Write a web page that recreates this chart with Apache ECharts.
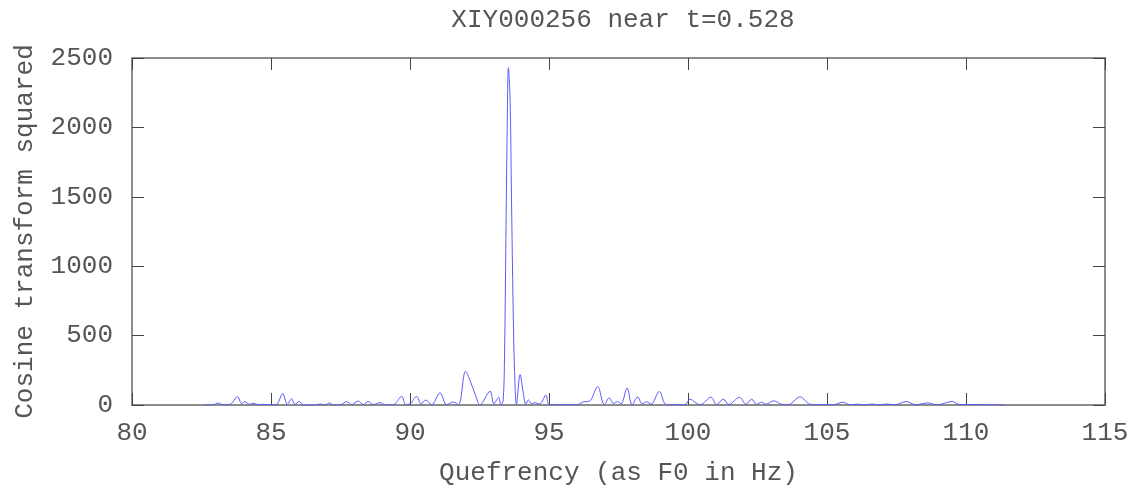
<!DOCTYPE html>
<html>
<head>
<meta charset="utf-8">
<script src="https://cdn.jsdelivr.net/npm/echarts@6/dist/echarts.min.js"></script>
<style>
html,body{margin:0;padding:0;background:#fff;}
#chart{width:1132px;height:486px;}
</style>
</head>
<body>
<div id="chart"></div>
<script>
const titleText = 'XIY000256 near t=0.528';
const xLabel = 'Quefrency (as F0 in Hz)';
const yLabel = 'Cosine transform squared';
const xTicks = [80, 85, 90, 95, 100, 105, 110, 115];
const yTicks = [0, 500, 1000, 1500, 2000, 2500];

const quefrency = [
  82.63, 82.92, 83.10, 83.28, 83.53, 83.79, 83.95, 84.06, 84.22, 84.36,
  84.54, 84.72, 84.90, 85.18, 85.42, 85.59, 85.74, 85.86, 86.02, 86.16,
  86.58, 86.76, 86.94, 87.10, 87.24, 87.48, 87.72, 87.90, 88.14, 88.32,
  88.50, 88.68, 88.92, 89.10, 89.34, 89.46, 89.70, 89.85, 90.00, 90.24,
  90.40, 90.56, 90.78, 91.08, 91.32, 91.56, 91.74, 92.00, 92.16, 92.34,
  92.52, 92.88, 93.02, 93.19, 93.27, 93.35, 93.40, 93.45, 93.49, 93.54,
  93.60, 93.65, 93.71, 93.76, 93.83, 93.96, 94.08, 94.17, 94.26, 94.38,
  94.50, 94.62, 94.71, 94.89, 95.02, 96.00, 96.23, 96.47, 96.75, 96.99,
  97.17, 97.31, 97.47, 97.59, 97.81, 97.99, 98.19, 98.35, 98.51, 98.67,
  98.97, 99.23, 99.89, 100.07, 100.25, 100.43, 100.83, 101.03, 101.27, 101.47,
  101.85, 102.09, 102.29, 102.47, 102.65, 102.81, 103.07, 103.37, 103.60, 104.03,
  104.39, 104.68, 105.22, 105.57, 105.83, 106.08, 106.33, 106.62, 106.87, 107.16,
  107.45, 107.84, 108.20, 108.63, 108.96, 109.50, 109.78, 110.00, 110.36, 110.72,
  111.40
];
const power = [
  0, 2, 14, 2, 5, 60, 10, 24, 5, 12,
  3, 5, 2, 2, 82, 5, 45, 5, 26, 0,
  0, 7, 1, 14, 1, 1, 24, 3, 29, 3,
  26, 3, 17, 1, 0, 8, 62, 3, 8, 62,
  8, 36, 3, 87, 2, 22, 1, 243, 176, 80,
  2, 99, 8, 55, 2, 30, 350, 1200, 1900, 2430,
  2200, 1500, 700, 250, 5, 219, 80, 5, 36, 8,
  17, 8, 12, 72, 2, 2, 22, 30, 132, 2,
  52, 12, 24, 8, 122, 2, 58, 8, 24, 5,
  97, 2, 2, 43, 20, 2, 56, 3, 42, 3,
  56, 5, 42, 5, 20, 5, 30, 5, 2, 58,
  5, 2, 2, 20, 2, 6, 1, 7, 1, 7,
  1, 25, 2, 15, 1, 25, 2, 4, 3, 1,
  0
];

const FONT = '"Liberation Mono", "DejaVu Sans Mono", monospace';
const TEXT = '#555555';
const FRAME = '#8c8c8c';
const TICK = '#444';
const FS = 26;

const chart = echarts.init(document.getElementById('chart'), null, {renderer: 'canvas'});
const seriesData = quefrency.map((q, i) => [q, power[i]]);

function axisCommon(show) {
  return {
    axisLine: {show: true, onZero: false, lineStyle: {color: FRAME, width: 2}},
    axisTick: {show: true, inside: true, length: 12, lineStyle: {color: TICK, width: 1}},
    splitLine: {show: false},
    axisLabel: {show: show, color: TEXT, fontFamily: FONT, fontSize: FS}
  };
}

chart.setOption({
  animation: false,
  backgroundColor: '#ffffff',
  title: {
    text: titleText, left: 618, top: 2, textAlign: 'center',
    textStyle: {fontFamily: FONT, fontSize: FS, fontWeight: 'normal', color: TEXT}
  },
  grid: {left: 132, right: 27, top: 58, bottom: 81, containLabel: false, outerBoundsMode: 'none'},
  xAxis: [
    Object.assign(axisCommon(true), {
      type: 'value', position: 'bottom', min: xTicks[0], max: xTicks[xTicks.length - 1], interval: 5,
      name: xLabel, nameLocation: 'middle', nameGap: 55,
      nameTextStyle: {fontFamily: FONT, fontSize: FS, color: TEXT},
      axisLabel: {show: true, color: TEXT, fontFamily: FONT, fontSize: FS, margin: 15,
                  formatter: v => String(v)}
    }),
    Object.assign(axisCommon(false), {
      type: 'value', position: 'top', min: xTicks[0], max: xTicks[xTicks.length - 1], interval: 5
    })
  ],
  yAxis: [
    Object.assign(axisCommon(true), {
      type: 'value', position: 'left', min: yTicks[0], max: yTicks[yTicks.length - 1], interval: 500,
      name: yLabel, nameLocation: 'middle', nameGap: 94, nameRotate: 90,
      nameTextStyle: {fontFamily: FONT, fontSize: FS, color: TEXT},
      axisLabel: {show: true, color: TEXT, fontFamily: FONT, fontSize: FS, margin: 19,
                  formatter: v => String(v)}
    }),
    Object.assign(axisCommon(false), {
      type: 'value', position: 'right', min: yTicks[0], max: yTicks[yTicks.length - 1], interval: 500
    })
  ],
  series: [{
    type: 'line',
    data: seriesData,
    showSymbol: false,
    smooth: 0.35,
    clip: true,
    lineStyle: {color: '#5a5aff', width: 1}
  }]
});
</script>
</body>
</html>
